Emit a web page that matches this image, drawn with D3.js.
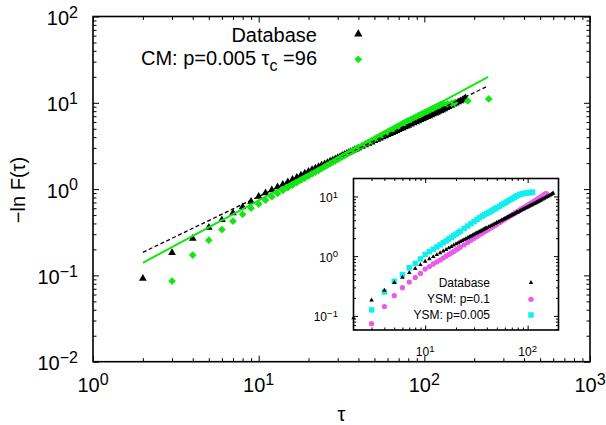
<!DOCTYPE html>
<html>
<head>
<meta charset="utf-8">
<style>
  body { margin: 0; background: #fff; }
  svg { font-family: "Liberation Sans", Arial, sans-serif; }
  .tick line { stroke: #000; }
</style>
</head>
<body>
<script src="https://cdn.jsdelivr.net/npm/d3@7"></script>
<script>
  // ---- main panel: database vs CM model ----
  const dbTau = [2,3,4,5,6,7,8,9,10,11,12,13,14,15,16,17,18,19,20,21,22,23,24,25,26,27,28,29,30,31,32,33,34,35,36,37,38,39,40,
    42,44,46,48,50,52,54,56,58,60,62,64,66,68,70,72,74,76,78,80,83,86,89,92,95,98,101,104,107,110,113,116,119,122,125,128,
    132,136,140,145,150,155,160,165,170,174,177];
  const dbVal = [0.092,0.183,0.268,0.36,0.44,0.53,0.62,0.72,0.82,0.899,0.977,1.056,1.135,1.213,1.29,1.368,1.446,1.523,1.60,1.672,1.744,1.815,1.886,1.957,2.027,2.098,2.167,2.237,2.307,2.376,2.445,2.514,2.582,2.65,2.719,2.787,2.855,2.922,2.99,
    3.12,3.25,3.38,3.50,3.63,3.76,3.88,4.01,4.13,4.25,4.38,4.50,4.62,4.74,4.87,4.99,5.11,5.23,5.35,5.46,5.64,5.82,6.00,6.17,6.35,6.53,6.70,6.88,7.05,7.23,7.40,7.57,7.74,7.92,8.09,8.26,
    8.5,8.75,9.0,9.3,9.6,9.9,10.2,10.5,10.8,11.1,11.4];
  const cmTau = [3,4,5,6,7,8,9,10,11,12,13,14,15,16,17,18,19,20,21,22,23,24,25,26,27,28,29,30,31,32,33,34,35,36,37,38,39,40,
    42,44,46,48,50,52,54,56,58,60,62,64,66,68,70,72,74,76,78,80,83,86,89,92,95,98,101,104,107,110,113,116,119,122,125,
    131,138,146,152,183,245];
  const cmVal = [0.086,0.172,0.256,0.34,0.425,0.51,0.60,0.67,0.743,0.816,0.89,0.965,1.04,1.115,1.191,1.267,1.344,1.42,1.498,1.575,1.653,1.732,1.811,1.89,1.969,2.048,2.128,2.208,2.289,2.369,2.45,2.531,2.612,2.693,2.775,2.857,2.938,3.02,
    3.177,3.334,3.492,3.649,3.807,3.966,4.124,4.282,4.442,4.60,4.76,4.919,5.079,5.238,5.398,5.558,5.719,5.88,6.04,6.20,6.42,6.64,6.86,7.08,7.30,7.52,7.74,7.96,8.17,8.39,8.61,8.83,9.04,9.26,9.45,
    9.6,9.75,9.85,10.0,10.5,11.1];
  // power-law fits, end points
  const fitTau = [2, 243];
  const dbFit = [0.185, 15.7];
  const cmFit = [0.14, 20];

  // ---- inset: YSM model ----
  const ysmATau = [3,4,5,6,7,8,9,10,11,12,13,14,15,16,17,18,19,20,21,22,24,26,28,30,32,34,36,38,40,42,44,46,48,50,53,56,59,62,65,68,72,76,80,84,88,92,96,100,104,108,113,118,123,128,134,140,146,150,152];
  const ysmAVal = [0.074,0.143,0.218,0.296,0.369,0.44,0.514,0.607,0.67,0.74,0.80,0.86,0.93,1.0,1.07,1.13,1.20,1.27,1.34,1.41,1.55,1.70,1.84,1.99,2.13,2.28,2.42,2.56,2.70,2.85,2.99,3.12,3.27,3.42,3.64,3.87,4.07,4.30,4.52,4.75,5.05,5.35,5.65,5.95,6.25,6.55,6.85,7.15,7.45,7.75,8.15,8.55,8.95,9.35,9.85,10.35,10.8,11.0,11.1];
  const ysmBTau = [3,4,5,6,7,8,9,10,11,12,13,14,15,16,17,18,19,20,21,22,24,26,28,30,32,34,36,38,40,42,44,46,48,50,53,56,59,62,65,68,71,74,77,80,84,88,92,96,100,104,108,112];
  const ysmBVal = [0.126,0.25,0.38,0.49,0.64,0.755,0.90,1.07,1.19,1.31,1.43,1.55,1.68,1.80,1.94,2.07,2.20,2.34,2.48,2.62,2.91,3.2,3.5,3.8,4.1,4.4,4.7,4.95,5.2,5.45,5.7,5.95,6.2,6.47,6.85,7.25,7.65,8.05,8.45,8.85,9.25,9.65,10.05,10.4,10.8,11.05,11.25,11.4,11.5,11.6,11.7,11.8];

  // ticks
  const mainXTicks = [1, 10, 100, 1000], mainXExp = ['0', '1', '2', '3'];
  const mainYTicks = [0.01, 0.1, 1, 10, 100], mainYExp = ['\u22122', '\u22121', '0', '1', '2'];
  const insXTicks = [10, 100], insXExp = ['1', '2'];
  const insYTicks = [0.1, 1, 10], insYExp = ['\u22121', '0', '1'];

  const green = '#14e614', magenta = '#e85ce8', cyan = '#12eeee';

  const svg = d3.select('body').append('svg')
    .attr('width', 606).attr('height', 425);

  const x = d3.scaleLog().domain([1, 1000]).range([93, 590]);
  const y = d3.scaleLog().domain([0.01, 100]).range([361.7, 16.5]);
  const xi = d3.scaleLog().domain([2, 200]).range([353.5, 558.5]);
  const yi = d3.scaleLog().domain([0.058, 20]).range([330, 178.5]);

  const minors = sc => {
    const [a, b] = sc.domain(), out = [];
    for (let e = Math.floor(Math.log10(a)); e <= Math.ceil(Math.log10(b)); e++)
      for (let k = 2; k <= 9; k++) {
        const v = k * Math.pow(10, e);
        if (v > a * 1.001 && v < b * 0.999) out.push(v);
      }
    return out;
  };

  function axes(g, xs, ys, xMaj, yMaj, big, small) {
    const [x0, x1] = xs.range(), [y0, y1] = ys.range();
    const sides = [
      [d3.axisBottom, xs, `translate(0,${y0})`, xMaj],
      [d3.axisTop, xs, `translate(0,${y1})`, xMaj],
      [d3.axisLeft, ys, `translate(${x0},0)`, yMaj],
      [d3.axisRight, ys, `translate(${x1},0)`, yMaj]
    ];
    sides.forEach(([ax, sc, tr, maj]) => {
      [[maj, big], [minors(sc), small]].forEach(([vals, len]) => {
        g.append('g').attr('transform', tr)
          .call(ax(sc).tickValues(vals).tickSize(-len).tickFormat(''))
          .call(s => s.select('.domain').remove());
      });
    });
    g.append('rect')
      .attr('x', x0).attr('y', y1)
      .attr('width', x1 - x0).attr('height', y0 - y1)
      .attr('fill', 'none').attr('stroke', '#000').attr('stroke-width', 1.6);
  }

  function powLabel(g, px, py, exp, size, anchor) {
    const t = g.append('text').attr('x', px).attr('y', py)
      .attr('text-anchor', anchor).attr('font-size', size);
    t.append('tspan').text('10');
    t.append('tspan').attr('dy', -0.36 * size).attr('font-size', 0.8 * size).text(exp);
  }

  const tri = (s) => d3.symbol(d3.symbolTriangle, s)();
  const dia = (s) => d3.symbol(d3.symbolSquare, s)();

  function points(g, xs, ys, taus, vals, path, color, rot) {
    g.append('g').selectAll('path')
      .data(d3.zip(taus, vals))
      .join('path')
      .attr('d', path)
      .attr('fill', color)
      .attr('transform', d => `translate(${xs(d[0])},${ys(d[1])})` + (rot ? ` rotate(${rot})` : ''));
  }

  // ---- main panel ----
  const main = svg.append('g');
  axes(main, x, y, mainXTicks, mainYTicks, 6, 3.5);

  mainXTicks.forEach((v, i) => powLabel(main, x(v), 392, mainXExp[i], 20, 'middle'));
  mainYTicks.forEach((v, i) => powLabel(main, 78, y(v) + 8.5, mainYExp[i], 20, 'end'));

  main.append('text').attr('x', x(Math.sqrt(1000))).attr('y', 421)
    .attr('text-anchor', 'middle').attr('font-size', 20).text('\u03c4');
  main.append('text').attr('transform', 'translate(25,190) rotate(-90)')
    .attr('text-anchor', 'middle').attr('font-size', 20).text('\u2212ln F(\u03c4)');

  points(main, x, y, dbTau, dbVal, tri(26), '#000');
  points(main, x, y, cmTau, cmVal, dia(30), green, 45);

  const line = (xs, ys) => d3.line().x(d => xs(d[0])).y(d => ys(d[1]));
  main.append('path').datum(d3.zip(fitTau, dbFit))
    .attr('d', line(x, y)).attr('fill', 'none')
    .attr('stroke', '#000').attr('stroke-width', 1.3).attr('stroke-dasharray', '4,2.5');
  main.append('path').datum(d3.zip(fitTau, cmFit))
    .attr('d', line(x, y)).attr('fill', 'none')
    .attr('stroke', green).attr('stroke-width', 2);

  // main legend
  main.append('text').attr('x', 317).attr('y', 41.5).attr('text-anchor', 'end')
    .attr('font-size', 20).text('Database');
  const lg = main.append('text').attr('x', 317).attr('y', 64.5).attr('text-anchor', 'end')
    .attr('font-size', 20);
  lg.append('tspan').text('CM: p=0.005 \u03c4');
  lg.append('tspan').attr('dy', 6).attr('font-size', 16).text('c');
  lg.append('tspan').attr('dy', -6).text(' =96');
  main.append('path').attr('d', tri(30)).attr('transform', 'translate(358.3,34)');
  main.append('path').attr('d', dia(30)).attr('fill', green)
    .attr('transform', 'translate(358.3,59.3) rotate(45)');

  // ---- inset ----
  const ins = svg.append('g');
  ins.append('rect').attr('x', 353.5).attr('y', 178.5)
    .attr('width', 205).attr('height', 151.5).attr('fill', '#fff');
  axes(ins, xi, yi, insXTicks, insYTicks, 4.5, 2.5);
  insXTicks.forEach((v, i) => powLabel(ins, xi(v), 356, insXExp[i], 12, 'middle'));
  insYTicks.forEach((v, i) => powLabel(ins, 338, yi(v) + 5.5, insYExp[i], 12, 'end'));

  points(ins, xi, yi, ysmATau, ysmAVal, d3.symbol(d3.symbolCircle, 22)(), magenta);
  points(ins, xi, yi, ysmBTau, ysmBVal, d3.symbol(d3.symbolSquare, 30)(), cyan);
  points(ins, xi, yi, dbTau, dbVal, tri(9), '#000');

  const insLeg = [
    ['Database', tri(9), '#000', 286.7],
    ['YSM: p=0.1', d3.symbol(d3.symbolCircle, 22)(), magenta, 303.3],
    ['YSM: p=0.005', d3.symbol(d3.symbolSquare, 30)(), cyan, 319]
  ];
  insLeg.forEach(([label, p, c, by]) => {
    ins.append('text').attr('x', 490).attr('y', by).attr('text-anchor', 'end')
      .attr('font-size', 12).text(label);
    ins.append('path').attr('d', p).attr('fill', c)
      .attr('transform', `translate(531,${by - 4})`);
  });
</script>
</body>
</html>
